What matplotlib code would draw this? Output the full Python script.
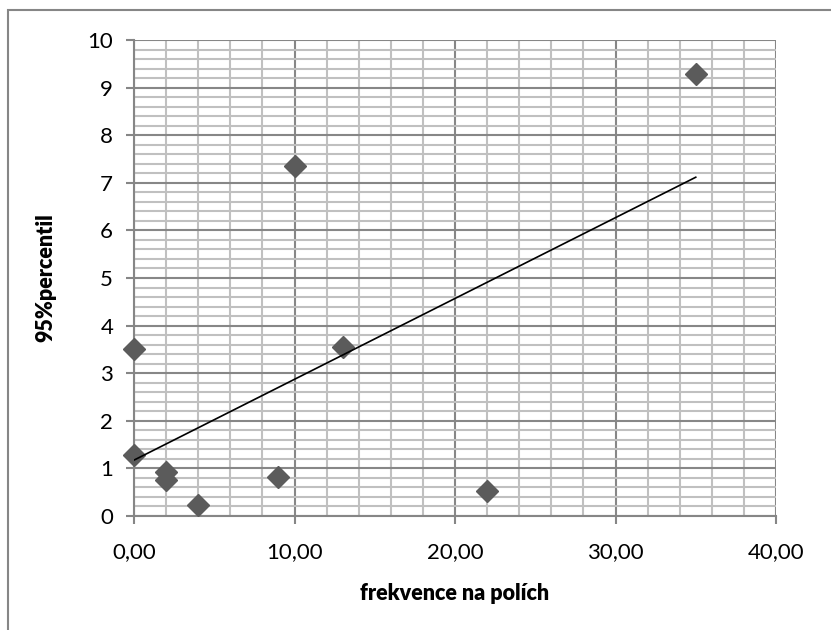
import matplotlib
matplotlib.use('Agg')
import numpy as np
import matplotlib.pyplot as plt
from matplotlib.patches import Rectangle
from matplotlib.ticker import MultipleLocator, FuncFormatter

# frequency on fields vs. 95% percentile
frekvence = [0, 0, 2, 2, 4, 9, 10, 13, 22, 35]
percentil = [3.5, 1.28, 0.92, 0.75, 0.24, 0.82, 7.35, 3.55, 0.52, 9.28]

plt.rcParams['font.family'] = ['Lato', 'DejaVu Sans']

fig = plt.figure(figsize=(8.31, 6.30), dpi=100)
ax = fig.add_axes([134 / 831, 114 / 630, 642 / 831, 476 / 630])

# chart area frame (runs off the right and bottom edges)
top = 1 - 10 / 630
fig.patches.append(Rectangle((8 / 831, -0.1), 1.1, top + 0.1,
                             transform=fig.transFigure, fill=False,
                             edgecolor='#868686', linewidth=1.5))

ax.set_xlim(0, 40)
ax.set_ylim(0, 10)
ax.xaxis.set_major_locator(MultipleLocator(10))
ax.xaxis.set_minor_locator(MultipleLocator(2))
ax.yaxis.set_major_locator(MultipleLocator(1))
ax.yaxis.set_minor_locator(MultipleLocator(0.2))
ax.xaxis.set_major_formatter(FuncFormatter(lambda v, p: f'{v:.2f}'.replace('.', ',')))

ax.grid(which='major', color='#878787', linewidth=1.5)
ax.grid(which='minor', color='#c0c0c0', linewidth=1.5)
ax.set_axisbelow(True)

for s in ['top', 'right']:
    ax.spines[s].set_visible(False)
for s in ['left', 'bottom']:
    ax.spines[s].set_color('#868686')
    ax.spines[s].set_linewidth(1.5)

ax.tick_params(which='major', direction='out', length=6, width=1.5, color='#868686',
               labelsize=16, pad=9)
ax.tick_params(which='minor', length=0)
ax.tick_params(axis='x', pad=13)

ax.plot(frekvence, percentil, linestyle='none', marker='D', markersize=11.5,
        color='#5b5b5b', zorder=3, clip_on=False)

# linear trend
k, q = np.polyfit(frekvence, percentil, 1)
xt = np.array([min(frekvence), max(frekvence)])
ax.plot(xt, k * xt + q, color='black', linewidth=1.2, zorder=4)

ax.set_xlabel('frekvence na polích', fontsize=15.5, fontweight='heavy', labelpad=15)
ax.set_ylabel('95%percentil', fontsize=15.5, fontweight='heavy', labelpad=22)

fig.savefig('out.png', dpi=100)
